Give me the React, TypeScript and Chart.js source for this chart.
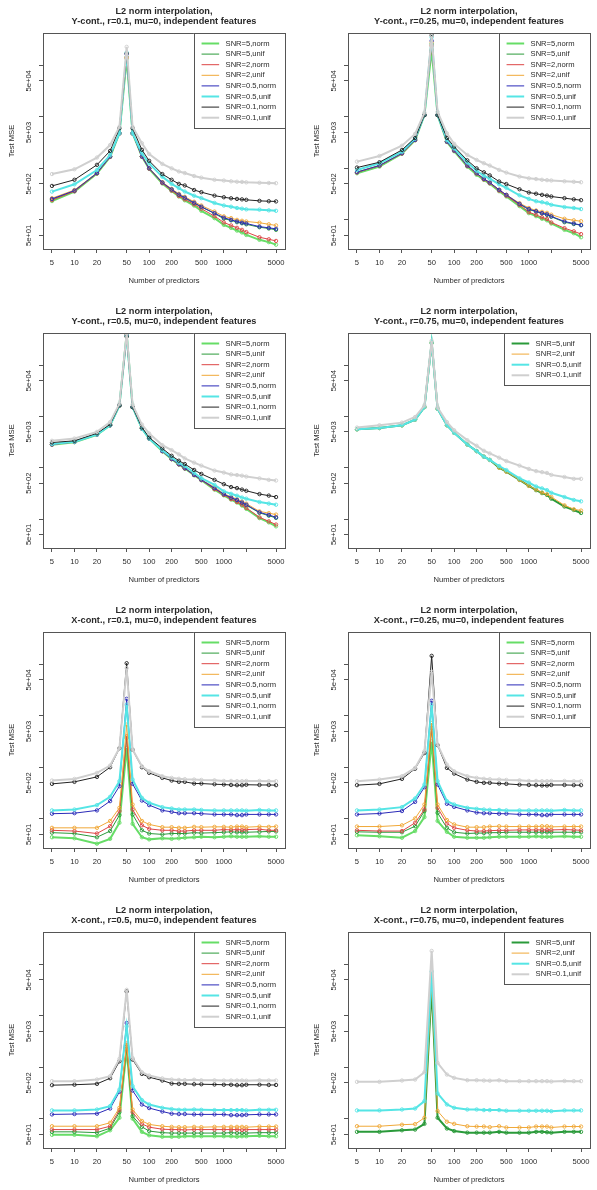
import React, { useEffect, useRef } from 'react';
import { Chart, registerables } from 'chart.js';
Chart.register(...registerables);

// ---------- shared axes ----------
const X_VALUES = [5, 10, 20, 30, 40, 50, 60, 80, 100, 150, 200, 250, 300, 400, 500, 750, 1000, 1250, 1500, 1750, 2000, 3000, 4000, 5000];
const X_TICKS = [5, 10, 20, 50, 100, 200, 500, 1000, 2000, 5000];
const X_TICK_LABELS = ['5', '10', '20', '50', '100', '200', '500', '1000', '', '5000'];
const Y_TICKS = [50, 100, 500, 1000, 5000, 10000, 50000, 100000];
const Y_TICK_LABELS = ['5e+01', '', '5e+02', '', '5e+03', '', '5e+04', ''];
const X_MIN = 3.79;
const X_MAX = 6592;
const Y_MIN = 27.2;
const Y_MAX = 424000;
const X_TITLE = 'Number of predictors';
const Y_TITLE = 'Test MSE';
const TITLE_LINE1 = 'L2 norm interpolation,';

// ---------- panel 1: Y-cont., r=0.1 ----------
const P1_SNR5_NORM = [232, 355, 790, 1670, 4780, 135000, 4780, 1690, 980, 510, 365, 285, 240, 190, 150, 108, 80, 70, 62, 57, 51, 41, 37, 33];
const P1_SNR5_UNIF = [250, 365, 800, 1680, 4780, 145000, 4780, 1690, 1000, 530, 385, 305, 265, 210, 178, 133, 105, 98, 90, 86, 82, 72, 68, 64];
const P1_SNR2_NORM = [242, 360, 800, 1680, 4780, 140000, 4780, 1690, 990, 520, 370, 290, 250, 200, 165, 118, 89, 78, 70, 64, 58, 46, 42, 39];
const P1_SNR2_UNIF = [263, 380, 810, 1690, 4780, 140000, 4780, 1690, 1000, 540, 400, 320, 280, 225, 190, 145, 117, 108, 100, 96, 93, 88, 82, 78];
const P1_SNR05_NORM = [255, 370, 810, 1690, 4780, 165000, 4780, 1690, 1000, 530, 390, 310, 270, 215, 180, 135, 110, 100, 93, 88, 85, 74, 70, 67];
const P1_SNR05_UNIF = [354, 490, 930, 1810, 4800, 177000, 4800, 1950, 1250, 690, 500, 415, 355, 294, 264, 213, 190, 180, 170, 165, 160, 158, 153, 150];
const P1_SNR01_NORM = [456, 600, 1170, 2180, 6000, 170000, 6000, 2290, 1400, 775, 600, 500, 465, 380, 345, 295, 275, 262, 255, 250, 245, 234, 230, 228];
const P1_SNR01_UNIF = [776, 960, 1620, 2830, 6400, 228000, 6400, 3070, 1900, 1220, 1000, 870, 810, 710, 660, 600, 580, 560, 550, 545, 535, 525, 520, 515];

// ---------- panel 2: Y-cont., r=0.25 ----------
const P2_SNR5_NORM = [804, 1082, 1930, 3530, 10800, 195000, 10800, 3250, 2150, 1082, 750, 597, 505, 360, 285, 185, 135, 118, 105, 98, 85, 64, 55, 46];
const P2_SNR5_UNIF = [840, 1130, 1950, 3550, 10800, 260000, 10800, 3300, 2200, 1120, 800, 620, 525, 380, 300, 200, 158, 145, 133, 125, 115, 90, 83, 79];
const P2_SNR2_NORM = [835, 1125, 1940, 3540, 10800, 240000, 10800, 3300, 2200, 1110, 790, 610, 515, 370, 295, 195, 141, 125, 112, 104, 89, 69, 60, 53];
const P2_SNR2_UNIF = [850, 1140, 1960, 3554, 10800, 280000, 10800, 3300, 2220, 1130, 804, 625, 530, 383, 306, 211, 170, 152, 143, 137, 126, 105, 98, 94];
const P2_SNR05_NORM = [845, 1135, 1960, 3554, 10800, 300000, 10800, 3300, 2220, 1130, 804, 625, 530, 383, 306, 205, 162, 147, 135, 128, 117, 93, 85, 79];
const P2_SNR05_UNIF = [930, 1256, 2100, 3800, 10800, 350000, 10800, 3550, 2450, 1300, 900, 720, 630, 490, 420, 300, 255, 230, 220, 210, 196, 177, 170, 162];
const P2_SNR01_NORM = [1036, 1315, 2275, 3900, 10800, 383000, 10800, 3900, 2640, 1430, 1000, 840, 730, 555, 495, 393, 340, 322, 306, 296, 284, 264, 250, 241];
const P2_SNR01_UNIF = [1352, 1740, 2750, 4660, 12000, 370000, 12500, 4780, 2990, 1820, 1457, 1256, 1133, 933, 826, 693, 641, 620, 600, 590, 581, 560, 548, 538];

// ---------- panel 3: Y-cont., r=0.5 ----------
const P3_SNR5_NORM = [2800, 3150, 4400, 6700, 16400, 410000, 15200, 5800, 3700, 2100, 1470, 1160, 965, 715, 570, 375, 290, 240, 210, 183, 158, 104, 86, 72];
const P3_SNR5_UNIF = [2840, 3200, 4440, 6730, 16400, 370000, 15200, 5800, 3720, 2110, 1480, 1170, 975, 725, 580, 395, 300, 258, 230, 205, 186, 132, 116, 105];
const P3_SNR2_NORM = [2830, 3180, 4420, 6700, 16400, 400000, 15200, 5800, 3720, 2110, 1480, 1170, 975, 720, 575, 383, 295, 245, 215, 190, 164, 108, 90, 78];
const P3_SNR2_UNIF = [2850, 3200, 4440, 6730, 16400, 390000, 15200, 5800, 3720, 2110, 1480, 1170, 975, 725, 580, 420, 311, 270, 245, 220, 199, 141, 130, 122];
const P3_SNR05_NORM = [2850, 3200, 4440, 6730, 16400, 380000, 15200, 5800, 3720, 2110, 1480, 1170, 975, 725, 580, 400, 305, 262, 235, 210, 190, 135, 120, 108];
const P3_SNR05_UNIF = [2900, 3200, 4440, 6730, 16400, 380000, 15200, 5800, 3720, 2200, 1580, 1250, 1080, 800, 625, 464, 345, 310, 285, 262, 249, 214, 200, 190];
const P3_SNR01_NORM = [3100, 3350, 4700, 7000, 16400, 360000, 15200, 6100, 3900, 2380, 1710, 1370, 1180, 905, 757, 580, 478, 420, 400, 375, 355, 306, 286, 268];
const P3_SNR01_UNIF = [3350, 3710, 5000, 7750, 17700, 420000, 17000, 6950, 4650, 2760, 2200, 1820, 1520, 1256, 1100, 880, 804, 740, 720, 700, 673, 620, 580, 563];

// ---------- panel 4: Y-cont., r=0.75 ----------
const P4_SNR5_UNIF = [5600, 5950, 6700, 8650, 15200, 270000, 14100, 6730, 4780, 2840, 2110, 1640, 1420, 1005, 840, 580, 444, 365, 320, 295, 249, 175, 150, 131];
const P4_SNR2_UNIF = [5630, 5970, 6730, 8670, 15200, 276000, 14100, 6730, 4780, 2840, 2110, 1640, 1420, 1005, 840, 580, 444, 375, 330, 305, 270, 185, 155, 146];
const P4_SNR05_UNIF = [5630, 5970, 6730, 8670, 15200, 276000, 14100, 6730, 4780, 2840, 2110, 1640, 1420, 1080, 900, 620, 515, 430, 395, 365, 325, 268, 235, 221];
const P4_SNR01_UNIF = [6060, 6730, 7570, 9750, 16400, 300000, 15000, 7750, 5380, 3450, 2680, 2140, 1900, 1570, 1350, 1100, 947, 860, 820, 790, 725, 660, 607, 607];

// ---------- panel 5: X-cont., r=0.1 ----------
const P5_SNR5_NORM = [44, 42, 33, 41, 84, 2380, 80, 44, 40, 42, 41, 42, 43, 44, 45, 44, 45, 46, 45, 45, 45, 46, 45, 45];
const P5_SNR5_UNIF = [54, 52, 44, 58, 118, 3720, 122, 60, 52, 50, 52, 52, 52, 54, 53, 54, 55, 56, 55, 55, 55, 56, 57, 57];
const P5_SNR2_NORM = [60, 58, 52, 72, 142, 4000, 152, 75, 64, 60, 60, 58, 58, 60, 60, 60, 62, 61, 62, 61, 62, 63, 60, 60];
const P5_SNR2_UNIF = [67, 67, 67, 91, 164, 6730, 190, 91, 78, 69, 69, 67, 67, 70, 69, 70, 70, 69, 71, 71, 69, 71, 70, 71];
const P5_SNR05_NORM = [126, 129, 146, 221, 431, 21400, 478, 227, 185, 146, 137, 129, 129, 129, 126, 122, 122, 122, 118, 118, 122, 122, 122, 122];
const P5_SNR05_UNIF = [146, 152, 185, 268, 539, 16400, 580, 256, 205, 169, 159, 152, 152, 152, 149, 146, 146, 146, 146, 146, 144, 149, 146, 146];
const P5_SNR01_NORM = [478, 523, 653, 1005, 2350, 105000, 2200, 1005, 782, 625, 555, 523, 523, 485, 485, 470, 464, 455, 450, 450, 460, 455, 455, 451];
const P5_SNR01_UNIF = [555, 597, 782, 1082, 2380, 84000, 2210, 1050, 840, 673, 625, 600, 590, 580, 570, 560, 545, 545, 540, 540, 545, 545, 540, 539];

// ---------- panel 6: X-cont., r=0.25 ----------
const P6_SNR5_NORM = [48, 46, 43, 58, 108, 3160, 91, 56, 45, 43, 43, 43, 44, 45, 45, 45, 45, 46, 45, 45, 45, 46, 45, 45];
const P6_SNR5_UNIF = [56, 55, 55, 72, 142, 5800, 131, 67, 55, 52, 53, 53, 54, 54, 55, 55, 55, 55, 55, 55, 55, 55, 55, 55];
const P6_SNR2_NORM = [60, 58, 58, 84, 152, 6530, 164, 81, 67, 60, 58, 58, 59, 60, 60, 61, 61, 61, 61, 61, 61, 62, 61, 60];
const P6_SNR2_UNIF = [71, 71, 75, 102, 190, 7250, 190, 95, 78, 69, 69, 69, 71, 72, 71, 71, 71, 71, 72, 72, 70, 71, 71, 71];
const P6_SNR05_NORM = [122, 127, 142, 214, 412, 19600, 464, 196, 171, 146, 133, 129, 129, 126, 126, 122, 122, 122, 118, 118, 122, 122, 122, 122];
const P6_SNR05_UNIF = [146, 152, 169, 249, 464, 16400, 539, 221, 190, 164, 157, 152, 150, 149, 146, 146, 146, 146, 146, 146, 144, 149, 146, 146];
const P6_SNR01_NORM = [451, 478, 597, 940, 1900, 146000, 2700, 975, 757, 580, 523, 500, 500, 485, 478, 460, 455, 450, 445, 445, 455, 455, 451, 451];
const P6_SNR01_UNIF = [539, 580, 673, 975, 2050, 72000, 2760, 1130, 840, 673, 625, 600, 590, 580, 570, 560, 545, 545, 540, 540, 545, 545, 540, 539];

// ---------- panel 7: X-cont., r=0.5 ----------
const P7_SNR5_NORM = [49, 49, 46, 60, 105, 2210, 101, 56, 48, 45, 45, 45, 46, 46, 46, 46, 46, 46, 45, 46, 46, 47, 46, 46];
const P7_SNR5_UNIF = [56, 56, 54, 66, 135, 2560, 113, 70, 58, 54, 53, 53, 53, 53, 53, 53, 53, 54, 53, 53, 53, 54, 54, 54];
const P7_SNR2_NORM = [62, 62, 62, 72, 148, 2750, 135, 80, 69, 63, 62, 62, 61, 62, 62, 62, 62, 62, 62, 61, 62, 62, 62, 62];
const P7_SNR2_UNIF = [72, 72, 72, 84, 164, 2970, 152, 91, 78, 72, 70, 69, 69, 70, 69, 70, 70, 70, 70, 70, 69, 71, 71, 71];
const P7_SNR05_NORM = [122, 124, 126, 159, 335, 7250, 355, 190, 162, 139, 126, 124, 124, 122, 122, 122, 122, 118, 118, 118, 120, 122, 122, 122];
const P7_SNR05_UNIF = [146, 146, 152, 177, 371, 6250, 431, 231, 190, 164, 155, 150, 150, 152, 150, 148, 148, 148, 148, 148, 146, 150, 150, 150];
const P7_SNR01_NORM = [451, 460, 478, 615, 1310, 29700, 1415, 746, 644, 555, 485, 478, 478, 470, 470, 465, 460, 460, 450, 450, 460, 460, 455, 455];
const P7_SNR01_UNIF = [539, 539, 580, 673, 1457, 32000, 1520, 804, 693, 610, 580, 570, 565, 575, 560, 560, 555, 555, 555, 555, 550, 560, 555, 555];

// ---------- panel 8: X-cont., r=0.75 ----------
const P8_SNR5_UNIF = [56, 56, 60, 62, 80, 34500, 105, 65, 58, 54, 54, 54, 54, 56, 54, 54, 54, 56, 56, 55, 54, 56, 56, 56];
const P8_SNR2_UNIF = [72, 72, 77, 79, 105, 40000, 142, 88, 80, 72, 71, 71, 69, 72, 68, 68, 68, 71, 71, 71, 68, 71, 71, 71];
const P8_SNR05_UNIF = [146, 146, 152, 159, 221, 72500, 311, 190, 164, 152, 152, 148, 148, 148, 144, 144, 144, 144, 144, 144, 141, 146, 146, 146];
const P8_SNR01_UNIF = [523, 523, 555, 580, 804, 182000, 1220, 725, 625, 563, 563, 555, 550, 560, 540, 540, 540, 540, 540, 540, 530, 545, 540, 540];

// ---------- series styles ----------
const STYLE: Record<string, { label: string; color: string; lw: number }> = {
  s5n: { label: 'SNR=5,norm', color: '#66dd66', lw: 2 },
  s5u: { label: 'SNR=5,unif', color: '#2a9a3a', lw: 1 },
  s2n: { label: 'SNR=2,norm', color: '#dd4646', lw: 1 },
  s2u: { label: 'SNR=2,unif', color: '#f0a838', lw: 1 },
  s05n: { label: 'SNR=0.5,norm', color: '#2a2ab8', lw: 1 },
  s05u: { label: 'SNR=0.5,unif', color: '#55e5e5', lw: 2 },
  s01n: { label: 'SNR=0.1,norm', color: '#222222', lw: 1 },
  s01u: { label: 'SNR=0.1,unif', color: '#cfcfcf', lw: 2 },
};

type S = { key: string; values: number[]; lw?: number };
type PanelDef = { sub: string; series: S[]; box: [number, number, number, number] };

const PANELS: PanelDef[] = [
  {
    sub: 'Y-cont., r=0.1, mu=0, independent features', box: [43, 33, 285, 249],
    series: [
      { key: 's5n', values: P1_SNR5_NORM }, { key: 's5u', values: P1_SNR5_UNIF },
      { key: 's2n', values: P1_SNR2_NORM }, { key: 's2u', values: P1_SNR2_UNIF },
      { key: 's05n', values: P1_SNR05_NORM }, { key: 's05u', values: P1_SNR05_UNIF },
      { key: 's01n', values: P1_SNR01_NORM }, { key: 's01u', values: P1_SNR01_UNIF },
    ],
  },
  {
    sub: 'Y-cont., r=0.25, mu=0, independent features', box: [348, 33, 590, 249],
    series: [
      { key: 's5n', values: P2_SNR5_NORM }, { key: 's5u', values: P2_SNR5_UNIF },
      { key: 's2n', values: P2_SNR2_NORM }, { key: 's2u', values: P2_SNR2_UNIF },
      { key: 's05n', values: P2_SNR05_NORM }, { key: 's05u', values: P2_SNR05_UNIF },
      { key: 's01n', values: P2_SNR01_NORM }, { key: 's01u', values: P2_SNR01_UNIF },
    ],
  },
  {
    sub: 'Y-cont., r=0.5, mu=0, independent features', box: [43, 333, 285, 548],
    series: [
      { key: 's5n', values: P3_SNR5_NORM }, { key: 's5u', values: P3_SNR5_UNIF },
      { key: 's2n', values: P3_SNR2_NORM }, { key: 's2u', values: P3_SNR2_UNIF },
      { key: 's05n', values: P3_SNR05_NORM }, { key: 's05u', values: P3_SNR05_UNIF },
      { key: 's01n', values: P3_SNR01_NORM }, { key: 's01u', values: P3_SNR01_UNIF },
    ],
  },
  {
    sub: 'Y-cont., r=0.75, mu=0, independent features', box: [348, 333, 590, 548],
    series: [
      { key: 's5u', values: P4_SNR5_UNIF, lw: 2 }, { key: 's2u', values: P4_SNR2_UNIF },
      { key: 's05u', values: P4_SNR05_UNIF }, { key: 's01u', values: P4_SNR01_UNIF },
    ],
  },
  {
    sub: 'X-cont., r=0.1, mu=0, independent features', box: [43, 632, 285, 848],
    series: [
      { key: 's5n', values: P5_SNR5_NORM }, { key: 's5u', values: P5_SNR5_UNIF },
      { key: 's2n', values: P5_SNR2_NORM }, { key: 's2u', values: P5_SNR2_UNIF },
      { key: 's05n', values: P5_SNR05_NORM }, { key: 's05u', values: P5_SNR05_UNIF },
      { key: 's01n', values: P5_SNR01_NORM }, { key: 's01u', values: P5_SNR01_UNIF },
    ],
  },
  {
    sub: 'X-cont., r=0.25, mu=0, independent features', box: [348, 632, 590, 848],
    series: [
      { key: 's5n', values: P6_SNR5_NORM }, { key: 's5u', values: P6_SNR5_UNIF },
      { key: 's2n', values: P6_SNR2_NORM }, { key: 's2u', values: P6_SNR2_UNIF },
      { key: 's05n', values: P6_SNR05_NORM }, { key: 's05u', values: P6_SNR05_UNIF },
      { key: 's01n', values: P6_SNR01_NORM }, { key: 's01u', values: P6_SNR01_UNIF },
    ],
  },
  {
    sub: 'X-cont., r=0.5, mu=0, independent features', box: [43, 932, 285, 1148],
    series: [
      { key: 's5n', values: P7_SNR5_NORM }, { key: 's5u', values: P7_SNR5_UNIF },
      { key: 's2n', values: P7_SNR2_NORM }, { key: 's2u', values: P7_SNR2_UNIF },
      { key: 's05n', values: P7_SNR05_NORM }, { key: 's05u', values: P7_SNR05_UNIF },
      { key: 's01n', values: P7_SNR01_NORM }, { key: 's01u', values: P7_SNR01_UNIF },
    ],
  },
  {
    sub: 'X-cont., r=0.75, mu=0, independent features', box: [348, 932, 590, 1148],
    series: [
      { key: 's5u', values: P8_SNR5_UNIF, lw: 2 }, { key: 's2u', values: P8_SNR2_UNIF },
      { key: 's05u', values: P8_SNR05_UNIF }, { key: 's01u', values: P8_SNR01_UNIF },
    ],
  },
];

const FONT = '"Liberation Sans", Arial, Helvetica, sans-serif';
const FS = 7.6;
const INK = '#2a2a2a';
const FRAME = '#555555';
const LEFT_M = 43;
const TOP_M = 33;
const RIGHT_M = 6;
const BOTTOM_M = 40;

function Panel({ def }: { def: PanelDef }) {
  const ref = useRef<HTMLCanvasElement | null>(null);
  const [bl, bt, br, bb] = def.box;
  const cl = bl - LEFT_M;
  const ct = bt - TOP_M;
  const cw = br - bl + LEFT_M + RIGHT_M;
  const ch = bb - bt + TOP_M + BOTTOM_M;

  useEffect(() => {
    if (!ref.current) return;
    const n = def.series.length;
    const datasets = def.series.map((s, i) => {
      const st = STYLE[s.key];
      return {
        label: st.label,
        data: X_VALUES.map((x, j) => ({ x, y: s.values[j] })),
        borderColor: st.color,
        borderWidth: s.lw ?? st.lw,
        pointRadius: 1.7,
        pointBorderWidth: 0.9,
        pointBorderColor: st.color,
        pointBackgroundColor: 'rgba(0,0,0,0)',
        tension: 0,
        order: n - i,
        fill: false,
      };
    });

    const decorPlugin = {
      id: 'decor',
      afterDraw(chart: any) {
        const ctx = chart.ctx as CanvasRenderingContext2D;
        const a = chart.chartArea;
        ctx.save();
        // frame
        ctx.strokeStyle = FRAME;
        ctx.lineWidth = 1;
        ctx.strokeRect(Math.round(a.left) + 0.5, Math.round(a.top) + 0.5, Math.round(a.right - a.left), Math.round(a.bottom - a.top));
        // title
        ctx.fillStyle = INK;
        ctx.textAlign = 'center';
        ctx.textBaseline = 'middle';
        ctx.font = `bold 9.2px ${FONT}`;
        const cx = (a.left + a.right) / 2;
        ctx.fillText(TITLE_LINE1, cx, a.top - 21.5);
        ctx.fillText(def.sub, cx, a.top - 12);
        // legend
        ctx.font = `${FS}px ${FONT}`;
        let tw = 0;
        def.series.forEach((s) => { tw = Math.max(tw, ctx.measureText(STYLE[s.key].label).width); });
        const w = 7.7 + 17.6 + 6.4 + tw + 9;
        const h = 10.5 + (n - 1) * 10.6 + 10;
        const lx = a.right - w;
        const ly = a.top;
        ctx.fillStyle = '#ffffff';
        ctx.fillRect(lx, ly, w, h);
        ctx.strokeStyle = FRAME;
        ctx.strokeRect(Math.round(lx) + 0.5, Math.round(ly) + 0.5, Math.round(w), Math.round(h));
        def.series.forEach((s, i) => {
          const st = STYLE[s.key];
          const y = ly + 10.5 + i * 10.6;
          ctx.strokeStyle = st.color;
          ctx.lineWidth = s.lw ?? st.lw;
          ctx.beginPath();
          ctx.moveTo(lx + 7.7, y);
          ctx.lineTo(lx + 7.7 + 17.6, y);
          ctx.stroke();
          ctx.fillStyle = INK;
          ctx.textAlign = 'left';
          ctx.textBaseline = 'middle';
          ctx.fillText(st.label, lx + 7.7 + 17.6 + 6.4, y);
        });
        ctx.restore();
      },
    };

    const chart = new Chart(ref.current, {
      type: 'line',
      data: { datasets: datasets as any },
      options: {
        animation: false,
        responsive: false,
        maintainAspectRatio: false,
        devicePixelRatio: 1,
        layout: { padding: { left: 0, top: TOP_M, right: RIGHT_M, bottom: 0 } },
        plugins: { legend: { display: false }, tooltip: { enabled: false }, title: { display: false } },
        scales: {
          x: {
            type: 'logarithmic',
            position: 'bottom',
            min: X_MIN,
            max: X_MAX,
            afterBuildTicks: (scale: any) => { scale.ticks = X_TICKS.map((v) => ({ value: v })); },
            afterFit: (scale: any) => { scale.height = BOTTOM_M; },
            ticks: {
              autoSkip: false,
              maxRotation: 0,
              minRotation: 0,
              padding: 5.7,
              color: INK,
              font: { family: FONT, size: FS },
              callback: (v: any) => { const k = X_TICKS.indexOf(Number(v)); return k >= 0 ? X_TICK_LABELS[k] : ''; },
            },
            grid: { display: true, drawOnChartArea: false, drawTicks: true, tickLength: 4, color: FRAME, lineWidth: 1 },
            border: { display: false },
            title: { display: true, text: X_TITLE, color: INK, font: { family: FONT, size: FS }, padding: { top: 0, bottom: 3.4 } },
          },
          y: {
            type: 'logarithmic',
            position: 'left',
            min: Y_MIN,
            max: Y_MAX,
            afterBuildTicks: (scale: any) => { scale.ticks = Y_TICKS.map((v) => ({ value: v })); },
            afterFit: (scale: any) => { scale.width = LEFT_M; },
            ticks: {
              autoSkip: false,
              minRotation: 90,
              maxRotation: 90,
              crossAlign: 'center',
              padding: -1,
              color: INK,
              font: { family: FONT, size: FS },
              callback: (v: any) => { const k = Y_TICKS.indexOf(Number(v)); return k >= 0 ? Y_TICK_LABELS[k] : ''; },
            },
            grid: { display: true, drawOnChartArea: false, drawTicks: true, tickLength: 4, color: FRAME, lineWidth: 1 },
            border: { display: false },
            title: { display: true, text: Y_TITLE, color: INK, font: { family: FONT, size: FS }, padding: { top: 7.1, bottom: 0 } },
          },
        },
      } as any,
      plugins: [decorPlugin],
    });
    return () => chart.destroy();
  }, []);

  return (
    <canvas
      ref={ref}
      width={cw}
      height={ch}
      style={{ position: 'absolute', left: cl, top: ct, width: cw, height: ch }}
    />
  );
}

export default function App() {
  useEffect(() => {
    document.body.style.margin = '0';
  }, []);
  return (
    <div style={{ position: 'relative', width: 597, height: 1190, background: '#ffffff', overflow: 'hidden' }}>
      {PANELS.map((p, i) => (
        <Panel key={i} def={p} />
      ))}
    </div>
  );
}
